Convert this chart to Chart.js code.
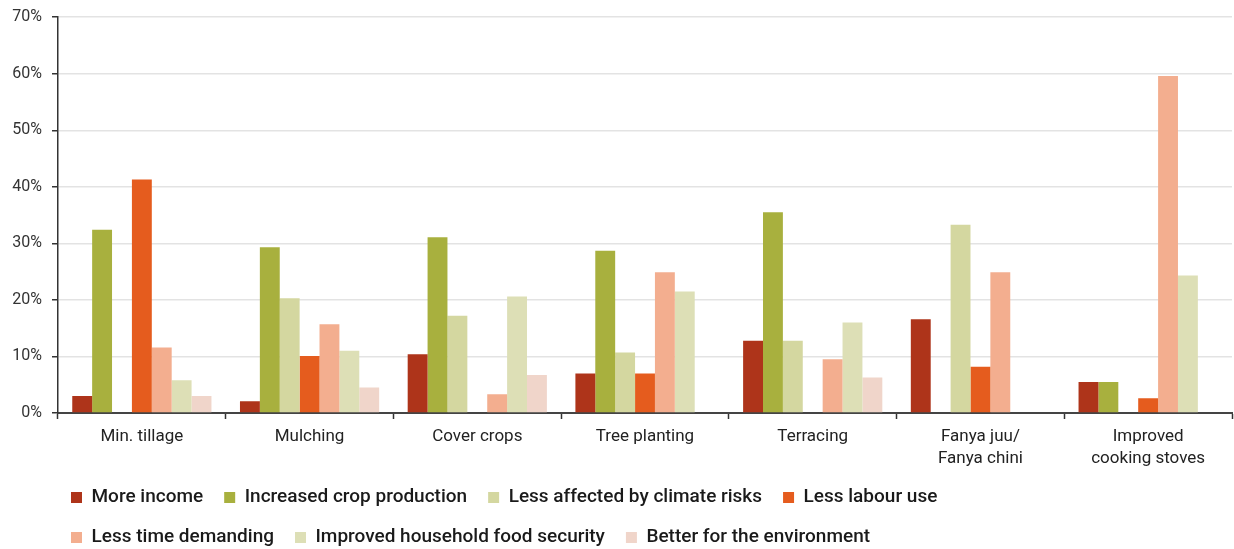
<!DOCTYPE html>
<html>
<head>
<meta charset="utf-8">
<script src="https://cdn.jsdelivr.net/npm/chart.js@4"></script>
<style>
  body { margin: 0; background: #fff; }
  #wrap { width: 1234px; height: 549px; }
</style>
</head>
<body>
<div id="wrap"><canvas id="myChart" width="1234" height="549"></canvas></div>
<script>
// categories and series (percent)
const categories = [
  'Min. tillage', 'Mulching', 'Cover crops', 'Tree planting', 'Terracing',
  ['Fanya juu/', 'Fanya chini'], ['Improved', 'cooking stoves']
];
const moreIncome      = [3.0, 2.1, 10.4, 7.0, 12.8, 16.6, 5.5];
const cropProduction  = [32.4, 29.3, 31.1, 28.7, 35.5, 0, 5.5];
const lessClimateRisk = [0, 20.3, 17.2, 10.7, 12.8, 33.3, 0];
const lessLabour      = [41.3, 10.1, 0, 7.0, 0, 8.2, 2.6];
const lessTime        = [11.6, 15.7, 3.3, 24.9, 9.5, 24.9, 59.6];
const foodSecurity    = [5.8, 11.0, 20.6, 21.5, 16.0, 0, 24.3];
const environment     = [3.0, 4.5, 6.7, 0, 6.3, 0, 0];
const yTicks = [0, 10, 20, 30, 40, 50, 60, 70];

let chart;

// legend rows like the original (4 items then 3), indented and a bit lower;
// x scale gets more room so the two-line labels are not clipped
const legendFit = {
  id: 'legendFit',
  afterLayout(c) {
    var lg = c.legend;
    lg.top += 8;
    lg.bottom += 8;
    lg.left += 50;
    lg.width = 1000;
    lg.right = lg.left + 1000;
    var x = c.scales.x;
    x.bottom += 30;
    x.height += 30;
  }
};

window.onload = function() {
  var ctx = document.getElementById('myChart').getContext('2d');
  Chart.defaults.font.family = "Roboto, 'DejaVu Sans', sans-serif";
  Chart.defaults.font.size = 16;
  Chart.defaults.color = '#222';

  chart = new Chart(ctx, {
    type: 'bar',
    data: {
      labels: categories,
      datasets: [
        { label: 'More income', data: moreIncome, backgroundColor: 'rgb(174, 52, 26)' },
        { label: 'Increased crop production', data: cropProduction, backgroundColor: 'rgb(168, 176, 62)' },
        { label: 'Less affected by climate risks', data: lessClimateRisk, backgroundColor: 'rgb(212, 215, 160)' },
        { label: 'Less labour use', data: lessLabour, backgroundColor: 'rgb(229, 92, 30)' },
        { label: 'Less time demanding', data: lessTime, backgroundColor: 'rgb(243, 174, 143)' },
        { label: 'Improved household food security', data: foodSecurity, backgroundColor: 'rgb(221, 223, 182)' },
        { label: 'Better for the environment', data: environment, backgroundColor: 'rgb(240, 213, 202)' },
      ],
    },
    options: {
      responsive: false,
      animation: false,
      datasets: {
        bar: { categoryPercentage: 0.83, barPercentage: 1.0, borderWidth: 0 }
      },
      layout: { padding: { left: 0, right: 2, top: 0, bottom: 0 } },
      plugins: {
        tooltip: { enabled: false },
        legend: {
          position: 'bottom',
          align: 'start',
          labels: {
            boxWidth: 11,
            boxHeight: 11,
            padding: 21,
            color: '#1a1a1a',
            font: { size: 19, weight: '500' },
          },
        },
      },
      scales: {
        x: {
          afterFit: function(scale) { scale.height = 46; },
          grid: {
            display: true,
            drawOnChartArea: false,
            drawTicks: true,
            tickLength: 6,
            tickColor: '#333',
            tickWidth: 1.5,
          },
          border: { display: true, color: '#444', width: 2 },
          ticks: {
            padding: 7,
            color: '#222',
            maxRotation: 0,
            font: { size: 17, lineHeight: 1.3 },
          },
        },
        y: {
          min: 0,
          max: 70,
          afterFit: function(scale) { scale.width = 58; },
          afterBuildTicks: function(scale) {
            scale.ticks = yTicks.map(v => ({ value: v }));
          },
          grid: {
            color: '#e3e3e3',
            lineWidth: 1.5,
            tickColor: '#333',
            tickLength: 6,
            tickWidth: 1.5,
          },
          border: { display: true, color: '#333', width: 1.5 },
          ticks: {
            padding: 10,
            color: '#333',
            font: { size: 16, lineHeight: 0.9 },
            callback: function(v) { return v + '%'; },
          },
        },
      },
    },
    plugins: [legendFit],
  });
};
</script>
</body>
</html>
